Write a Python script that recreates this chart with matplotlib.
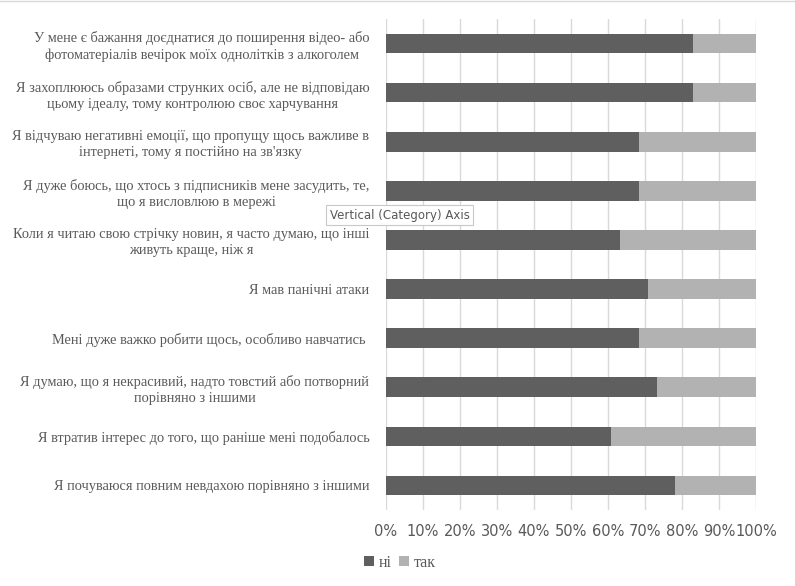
import matplotlib
matplotlib.use("Agg")
import matplotlib.pyplot as plt
import numpy as np

categories = [
    "У мене є бажання доєднатися до поширення відео- або\nфотоматеріалів вечірок моїх однолітків з алкоголем",
    "Я захоплююсь образами струнких осіб, але не відповідаю\nцьому ідеалу, тому контролюю своє харчування",
    "Я відчуваю негативні емоції, що пропущу щось важливе в\nінтернеті, тому я постійно на зв'язку",
    "Я дуже боюсь, що хтось з підписників мене засудить, те,\nщо я висловлюю в мережі",
    "Коли я читаю свою стрічку новин, я часто думаю, що інші\nживуть краще, ніж я",
    "Я мав панічні атаки",
    "Мені дуже важко робити щось, особливо навчатись ",
    "Я думаю, що я некрасивий, надто товстий або потворний\nпорівняно з іншими",
    "Я втратив інтерес до того, що раніше мені подобалось",
    "Я почуваюся повним невдахою порівняно з іншими",
]
ni = [83, 83, 68.4, 68.4, 63.2, 70.8, 68.4, 73.2, 60.8, 78.1]
tak = [100 - v for v in ni]
series_names = ["ні", "так"]
colors = ["#5f5f5f", "#b2b2b2"]
xticks = [0, 10, 20, 30, 40, 50, 60, 70, 80, 90, 100]

fig = plt.figure(figsize=(7.95, 5.86), dpi=100)
ax = fig.add_axes([386/795, 1-510/586, 370/795, 491/586])

y = np.arange(len(categories))
ax.barh(y, ni, height=0.4, color=colors[0], label=series_names[0], zorder=3)
ax.barh(y, tak, left=ni, height=0.4, color=colors[1], label=series_names[1], zorder=3)
ax.set_ylim(len(categories) - 0.5, -0.5)
ax.set_xlim(0, 100)
ax.set_yticks(y)
ax.set_yticklabels(categories, fontsize=10.4, family="Liberation Serif", color="#595959",
                   multialignment="center", linespacing=1.3)
ax.set_xticks(xticks)
ax.set_xticklabels([f"{t}%" for t in xticks], fontsize=10.5, color="#595959", family="DejaVu Sans")
ax.tick_params(axis="y", length=0, pad=12)
ax.tick_params(axis="x", length=0, pad=10)
ax.grid(axis="x", color="#d9d9d9", linewidth=1, zorder=0)
for s in ax.spines.values():
    s.set_visible(False)

fig.legend(loc="center", bbox_to_anchor=(400/795, 1-563/586), ncol=2, frameon=False,
           handlelength=0.6, handleheight=0.6, handletextpad=0.3, columnspacing=0.5,
           prop={"family": "Liberation Serif", "size": 11.5}, labelcolor="#595959")

fig.add_artist(plt.Line2D([0, 1], [1-1/586, 1-1/586], color="#d9d9d9", linewidth=1))

fig.text(330/795, 1-215/586, "Vertical (Category) Axis", fontsize=8.5, color="#575757",
         family="DejaVu Sans", va="center", ha="left",
         bbox=dict(boxstyle="square,pad=0.3", facecolor="white", edgecolor="#c8c8c8", linewidth=0.8))

fig.savefig("out.png", dpi=100)
